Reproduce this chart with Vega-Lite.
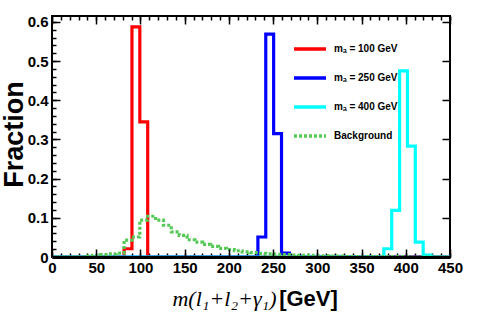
{
  "$schema": "https://vega.github.io/schema/vega-lite/v6.json",
  "width": 398,
  "height": 241,
  "autosize": {"type": "none"},
  "padding": {"left": 52, "top": 16, "right": 27, "bottom": 70},
  "background": "white",
  "config": {
    "view": {"stroke": "black", "strokeWidth": 2},
    "axis": {"grid": false, "tickColor": "black", "domainColor": "black", "labelColor": "black", "titleColor": "black"}
  },
  "data": {"values": [
    {"s": "mₐ = 100 GeV", "x": 0, "y": 0},
    {"s": "mₐ = 100 GeV", "x": 81.5, "y": 0.021},
    {"s": "mₐ = 100 GeV", "x": 90.4, "y": 0.587},
    {"s": "mₐ = 100 GeV", "x": 99.3, "y": 0.345},
    {"s": "mₐ = 100 GeV", "x": 108.2, "y": 0},
    {"s": "mₐ = 100 GeV", "x": 450, "y": 0},
    {"s": "mₐ = 250 GeV", "x": 0, "y": 0},
    {"s": "mₐ = 250 GeV", "x": 232.8, "y": 0.051},
    {"s": "mₐ = 250 GeV", "x": 241.7, "y": 0.569},
    {"s": "mₐ = 250 GeV", "x": 250.6, "y": 0.315},
    {"s": "mₐ = 250 GeV", "x": 259.5, "y": 0.010},
    {"s": "mₐ = 250 GeV", "x": 268.4, "y": 0},
    {"s": "mₐ = 250 GeV", "x": 450, "y": 0},
    {"s": "mₐ = 400 GeV", "x": 0, "y": 0},
    {"s": "mₐ = 400 GeV", "x": 375.2, "y": 0.021},
    {"s": "mₐ = 400 GeV", "x": 384.1, "y": 0.119},
    {"s": "mₐ = 400 GeV", "x": 393.0, "y": 0.475},
    {"s": "mₐ = 400 GeV", "x": 401.9, "y": 0.283},
    {"s": "mₐ = 400 GeV", "x": 410.8, "y": 0.038},
    {"s": "mₐ = 400 GeV", "x": 419.7, "y": 0.005},
    {"s": "mₐ = 400 GeV", "x": 428.6, "y": 0},
    {"s": "mₐ = 400 GeV", "x": 450, "y": 0},
    {"s": "Background", "x": 0, "y": 0},
    {"s": "Background", "x": 37, "y": 0.002},
    {"s": "Background", "x": 45.9, "y": 0.004},
    {"s": "Background", "x": 54.8, "y": 0.006},
    {"s": "Background", "x": 63.7, "y": 0.008},
    {"s": "Background", "x": 72.6, "y": 0.010},
    {"s": "Background", "x": 81.5, "y": 0.043},
    {"s": "Background", "x": 90.4, "y": 0.051},
    {"s": "Background", "x": 99.3, "y": 0.094},
    {"s": "Background", "x": 108.2, "y": 0.104},
    {"s": "Background", "x": 117.1, "y": 0.094},
    {"s": "Background", "x": 126.0, "y": 0.081},
    {"s": "Background", "x": 134.9, "y": 0.064},
    {"s": "Background", "x": 143.8, "y": 0.055},
    {"s": "Background", "x": 152.7, "y": 0.044},
    {"s": "Background", "x": 161.6, "y": 0.038},
    {"s": "Background", "x": 170.5, "y": 0.032},
    {"s": "Background", "x": 179.4, "y": 0.027},
    {"s": "Background", "x": 188.3, "y": 0.022},
    {"s": "Background", "x": 197.2, "y": 0.019},
    {"s": "Background", "x": 206.1, "y": 0.016},
    {"s": "Background", "x": 215.0, "y": 0.013},
    {"s": "Background", "x": 223.9, "y": 0.011},
    {"s": "Background", "x": 232.8, "y": 0.009},
    {"s": "Background", "x": 241.7, "y": 0.008},
    {"s": "Background", "x": 250.6, "y": 0.007},
    {"s": "Background", "x": 259.5, "y": 0.006},
    {"s": "Background", "x": 268.4, "y": 0.005},
    {"s": "Background", "x": 277.3, "y": 0.004},
    {"s": "Background", "x": 286.2, "y": 0.004},
    {"s": "Background", "x": 295.1, "y": 0.003},
    {"s": "Background", "x": 304.0, "y": 0.003},
    {"s": "Background", "x": 312.9, "y": 0.002},
    {"s": "Background", "x": 321.8, "y": 0.002},
    {"s": "Background", "x": 330.7, "y": 0.001},
    {"s": "Background", "x": 339.6, "y": 0.001},
    {"s": "Background", "x": 348.5, "y": 0.001},
    {"s": "Background", "x": 357.4, "y": 0.001},
    {"s": "Background", "x": 366.3, "y": 0.001},
    {"s": "Background", "x": 375.2, "y": 0.001},
    {"s": "Background", "x": 384.1, "y": 0.001},
    {"s": "Background", "x": 393.0, "y": 0.001},
    {"s": "Background", "x": 401.9, "y": 0},
    {"s": "Background", "x": 450, "y": 0}
  ]},
  "resolve": {"axis": {"x": "independent", "y": "independent"}},
  "layer": [
    {
      "mark": {"type": "point", "opacity": 0},
      "encoding": {
        "x": {"field": "x", "type": "quantitative", "scale": {"domain": [0, 450], "nice": false, "zero": false},
          "axis": {"orient": "bottom", "values": [0,10,20,30,40,50,60,70,80,90,100,110,120,130,140,150,160,170,180,190,200,210,220,230,240,250,260,270,280,290,300,310,320,330,340,350,360,370,380,390,400,410,420,430,440,450],
            "tickSize": -4, "tickWidth": 1.5, "labels": false, "domain": false,
            "title": "m(l₁+l₂+γ₁)", "titleFont": "Liberation Serif", "titleFontStyle": "italic", "titleFontWeight": "normal", "titleFontSize": 22,
            "titleX": 172, "titleY": 48, "titleBaseline": "alphabetic", "titleAlign": "center"}},
        "y": {"field": "y", "type": "quantitative", "scale": {"domain": [0, 0.615], "nice": false, "zero": false},
          "axis": {"orient": "left", "values": [0,0.02,0.04,0.06,0.08,0.1,0.12,0.14,0.16,0.18,0.2,0.22,0.24,0.26,0.28,0.3,0.32,0.34,0.36,0.38,0.4,0.42,0.44,0.46,0.48,0.5,0.52,0.54,0.56,0.58,0.6],
            "tickSize": -4, "tickWidth": 1.5, "labels": false, "domain": false, "title": null}}
      }
    },
    {
      "mark": {"type": "point", "opacity": 0},
      "encoding": {
        "x": {"field": "x", "type": "quantitative",
          "axis": {"orient": "top", "values": [0,10,20,30,40,50,60,70,80,90,100,110,120,130,140,150,160,170,180,190,200,210,220,230,240,250,260,270,280,290,300,310,320,330,340,350,360,370,380,390,400,410,420,430,440,450],
            "tickSize": -4, "tickWidth": 1.5, "labels": false, "domain": false, "title": null}},
        "y": {"field": "y", "type": "quantitative",
          "axis": {"orient": "right", "values": [0,0.1,0.2,0.3,0.4,0.5,0.6], "tickSize": -8, "tickWidth": 1.5, "labels": false, "domain": false, "title": null}}
      }
    },
    {
      "mark": {"type": "point", "opacity": 0},
      "encoding": {
        "x": {"field": "x", "type": "quantitative",
          "axis": {"orient": "top", "values": [0,50,100,150,200,250,300,350,400,450], "tickSize": -8, "tickWidth": 1.5, "labels": false, "domain": false, "title": null}},
        "y": {"field": "y", "type": "quantitative", "axis": null}
      }
    },
    {
      "mark": {"type": "line", "interpolate": "step-after", "strokeWidth": 3.2},
      "encoding": {
        "x": {"field": "x", "type": "quantitative",
          "axis": {"orient": "bottom", "values": [0,50,100,150,200,250,300,350,400,450], "tickSize": -8, "tickWidth": 1.5,
            "domainWidth": 3, "zindex": 1,
            "labelFont": "Liberation Sans", "labelFontWeight": "bold", "labelFontSize": 15, "labelPadding": 11,
            "labelFlush": false, "labelOverlap": false,
            "title": "[GeV]", "titleFont": "Liberation Sans", "titleFontWeight": "bold", "titleFontSize": 22,
            "titleX": 256, "titleY": 48, "titleBaseline": "alphabetic", "titleAlign": "center"}},
        "y": {"field": "y", "type": "quantitative",
          "axis": {"orient": "left", "values": [0,0.1,0.2,0.3,0.4,0.5,0.6], "format": ".1~f", "tickSize": -8, "tickWidth": 1.5, "domain": false,
            "labelFont": "Liberation Sans", "labelFontWeight": "bold", "labelFontSize": 15, "labelPadding": 12,
            "labelFlush": false, "labelOverlap": false,
            "title": "Fraction", "titleFont": "Liberation Sans", "titleFontWeight": "bold", "titleFontSize": 27,
            "titleX": -38, "titleY": 118, "titleAngle": 270, "titleBaseline": "middle", "titleAlign": "center"}},
        "color": {"field": "s", "type": "nominal",
          "scale": {"domain": ["mₐ = 100 GeV", "mₐ = 250 GeV", "mₐ = 400 GeV", "Background"], "range": ["#ff0000", "#0000ff", "#00ffff", "#55c955"]},
          "legend": {"orient": "none", "legendX": 240, "legendY": 18.6, "title": null, "symbolType": "stroke", "symbolSize": 1024,
            "symbolStrokeWidth": 3.5, "clipHeight": 28.7, "rowPadding": 0, "padding": 0, "labelOffset": 6,
            "labelFont": "Liberation Sans", "labelFontWeight": "bold", "labelFontSize": 10, "labelColor": "black"}},
        "strokeDash": {"field": "s", "type": "nominal",
          "scale": {"domain": ["mₐ = 100 GeV", "mₐ = 250 GeV", "mₐ = 400 GeV", "Background"], "range": [[1, 0], [1, 0], [1, 0], [3, 2]]},
          "legend": {"orient": "none", "legendX": 240, "legendY": 18.6, "title": null, "symbolType": "stroke", "symbolSize": 1024,
            "symbolStrokeWidth": 3.5, "clipHeight": 28.7, "rowPadding": 0, "padding": 0, "labelOffset": 6,
            "labelFont": "Liberation Sans", "labelFontWeight": "bold", "labelFontSize": 10, "labelColor": "black"}}
      }
    }
  ]
}
